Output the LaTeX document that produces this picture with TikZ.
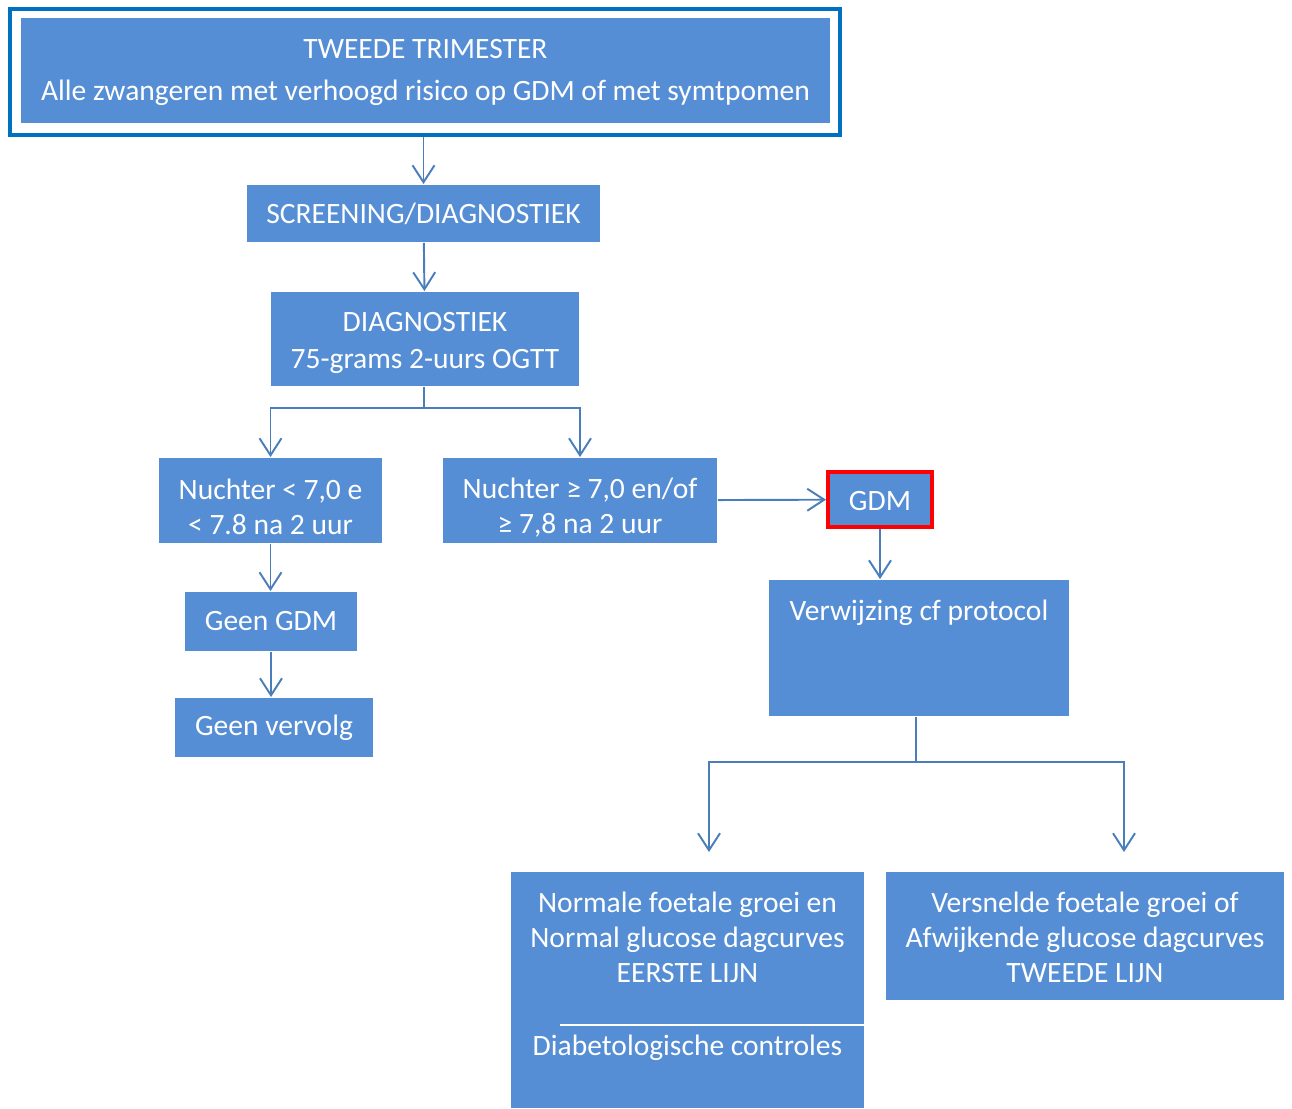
\documentclass[tikz,border=0pt]{standalone}
\usepackage{fontspec}
\setmainfont{Carlito}
\usetikzlibrary{arrows.meta}
\definecolor{boxblue}{RGB}{85,142,213}
\definecolor{lineblue}{RGB}{74,126,187}
\definecolor{frameblue}{RGB}{0,112,192}
\newcommand{\lift}[1]{\rule{0pt}{#1}}
\begin{document}
\begin{tikzpicture}[line width=1.1pt,draw=lineblue,
    -{Straight Barb[length=0.34cm,width=0.44cm]},
    font=\fontsize{16.8}{19.9}\selectfont]
    \tikzstyle{flow box}=[rectangle,fill=boxblue,text=white,align=center,inner sep=0pt,draw=none]
    \tikzstyle{label}=[text=white,align=center,inner sep=0pt]
    \useasboundingbox (0,0) rectangle (25.84,-22.16);

    % Top block
    \node[flow box,minimum width=16.18cm,minimum height=2.1cm] (trim) at (8.51,-1.41)
        {\lift{0.8em}TWEEDE TRIMESTER\\[4pt]Alle zwangeren met verhoogd risico op GDM of met symtpomen};
    \node[draw=frameblue,line width=0.08cm,minimum width=16.6cm,minimum height=2.52cm,inner sep=0pt] (frame) at (8.5,-1.44) {};

    % Screening and diagnostics
    \node[flow box,minimum width=7.06cm,minimum height=1.14cm] (screen) at (8.47,-4.27) {SCREENING/DIAGNOSTIEK};
    \node[flow box,minimum width=6.16cm,minimum height=1.88cm] (diag) at (8.5,-6.78) {\lift{0.9em}DIAGNOSTIEK\\[1pt]75-grams 2-uurs OGTT};

    % Outcomes
    \node[flow box,minimum width=4.46cm,minimum height=1.7cm] (low) at (5.41,-10.01) {\lift{1.1em}Nuchter < 7,0 e\\ < 7.8 na 2 uur};
    \node[flow box,minimum width=5.48cm,minimum height=1.7cm] (high) at (11.6,-10.01) {\lift{1.2em}Nuchter ≥ 7,0 en/of\\≥ 7,8 na 2 uur};
    \node[flow box,draw=red,line width=0.08cm,minimum width=2.08cm,minimum height=1.1cm] (gdm) at (17.6,-9.99) {\lift{0.75em}GDM};
    \node[flow box,minimum width=3.44cm,minimum height=1.18cm] (nogdm) at (5.42,-12.43) {Geen GDM};
    \node[flow box,minimum width=3.96cm,minimum height=1.18cm] (none) at (5.48,-14.55) {Geen vervolg};

    % Referral
    \node[flow box,minimum width=6.0cm,minimum height=2.72cm] (ref) at (18.38,-12.96) {};
    \node[label] (reftext) at (18.38,-12.26) {Verwijzing cf protocol};

    % Bottom blocks
    \node[flow box,minimum width=7.06cm,minimum height=4.72cm] (first) at (13.75,-19.8) {};
    \node[label] (firsttext) at (13.75,-18.74) {Normale foetale groei en\\Normal glucose dagcurves\\EERSTE LIJN};
    \node[label] (control) at (13.75,-20.96) {Diabetologische controles};
    \coordinate (sepl) at (11.2,-20.5);
    \coordinate (sepr) at (17.28,-20.5);
    \node[flow box,minimum width=7.96cm,minimum height=2.56cm] (second) at (21.7,-18.72)
        {\lift{0.8em}Versnelde foetale groei of\\Afwijkende glucose dagcurves\\TWEEDE LIJN};

    \coordinate (split) at (8.48,-8.16);
    \coordinate (refsplit) at (18.32,-15.24);
    \coordinate (tipl) at (14.18,-17.04);
    \coordinate (tipr) at (22.48,-17.04);

    % Connectors
    \draw (frame.south -| screen.north) -- (screen);
    \draw (screen) -- (diag);
    \draw[-] (diag.south -| split) -- (split);
    \draw (split) -| (low);
    \draw (split) -| (high);
    \draw (high) -- (gdm);
    \draw (gdm.south) -- (gdm.south |- ref.north);
    \draw (low) -- (low.south |- nogdm.north);
    \draw (nogdm.south) -- (nogdm.south |- none.north);
    \draw[-] (ref.south -| refsplit) -- (refsplit);
    \draw (refsplit) -| (tipl);
    \draw (refsplit) -| (tipr);
    \draw[-,white,line width=1pt] (sepl) -- (sepr);
\end{tikzpicture}
\end{document}
